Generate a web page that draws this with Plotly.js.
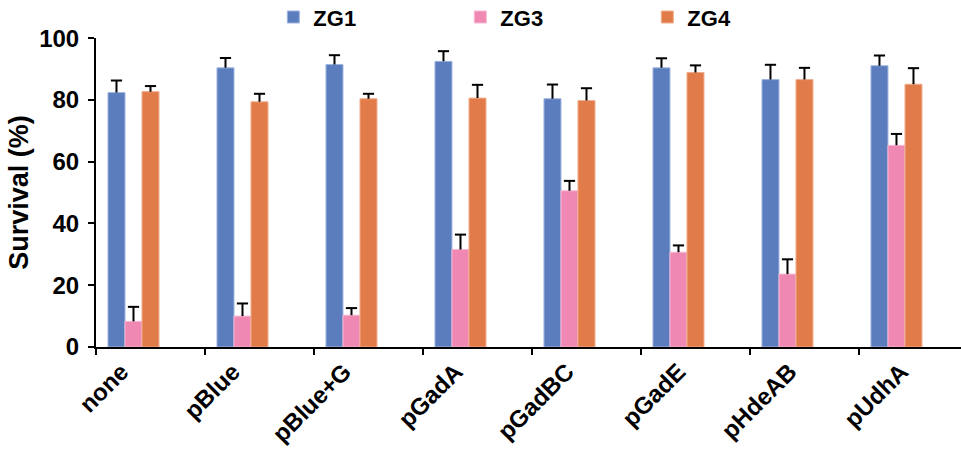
<!DOCTYPE html>
<html><head><meta charset="utf-8">
<script src="https://cdn.plot.ly/plotly-3.0.1.min.js"></script>
<style>html,body{margin:0;padding:0;background:#fff}#c{width:961px;height:453px}</style>
</head><body><div id="c"></div>
<script>
const categories = ["none","pBlue","pBlue+G","pGadA","pGadBC","pGadE","pHdeAB","pUdhA"];
const zg1 = [82.4, 90.4, 91.5, 92.5, 80.4, 90.4, 86.6, 91.1];
const zg1Err = [3.9, 3.2, 3.0, 3.3, 4.6, 3.1, 4.8, 3.3];
const zg3 = [8.3, 10.0, 10.3, 31.6, 50.6, 30.7, 23.6, 65.3];
const zg3Err = [4.7, 4.1, 2.3, 4.8, 3.2, 2.2, 4.8, 3.7];
const zg4 = [82.7, 79.4, 80.4, 80.6, 79.8, 88.9, 86.6, 85.1];
const zg4Err = [1.8, 2.6, 1.6, 4.3, 4.0, 2.3, 3.8, 5.2];
const seriesNames = ["ZG1","ZG3","ZG4"];
const colors = ["#5B7DBE","#F088B4","#E27B4A"];
const edgeColors = ["#9FB4E0","#F7B8D3","#F0AE8C"];
const yTicks = [0,20,40,60,80,100];

const W = 0.156;
const offsets = [-0.39, -0.39 + W, -0.39 + 2*W];
const vals = [zg1, zg3, zg4];
const errs = [zg1Err, zg3Err, zg4Err];
const zeros = categories.map(() => 0);
const XR = [-0.5, 7.436];

const traces = [];
seriesNames.forEach((n, i) => {
  traces.push({
    type: "bar", name: n, x: categories, y: vals[i],
    width: W, offset: offsets[i],
    marker: {color: colors[i], line: {width: 1, color: edgeColors[i]}},
    error_y: {type: "data", symmetric: false, array: errs[i], arrayminus: zeros,
              color: "#000", thickness: 2, width: 0},
    cliponaxis: false
  });
});
// error-bar caps drawn on an overlaid numeric axis at each bar's centre
seriesNames.forEach((n, i) => {
  traces.push({
    type: "scatter", mode: "markers", xaxis: "x2", showlegend: false, hoverinfo: "skip",
    x: categories.map((c, k) => k + offsets[i] + W / 2),
    y: vals[i].map((v, k) => v + errs[i][k]),
    marker: {symbol: "line-ew", size: 8, color: "#000", line: {width: 2, color: "#000"}},
    cliponaxis: false
  });
});

const layout = {
  width: 961, height: 453,
  margin: {l: 96, r: 0, t: 35, b: 106},
  paper_bgcolor: "#fff", plot_bgcolor: "#fff",
  font: {family: "Liberation Sans, Arial, sans-serif", color: "#000"},
  showlegend: true,
  legend: {orientation: "h", x: 0.205, xanchor: "left", xref: "paper",
           y: 0.962, yanchor: "middle", yref: "container",
           entrywidth: 142, entrywidthmode: "pixels", itemwidth: 30,
           font: {size: 22, weight: "bold", color: "#000"}, traceorder: "normal"},
  xaxis: {type: "category", range: XR, showgrid: false, automargin: false,
          showline: true, linecolor: "#000", linewidth: 2, showticklabels: false,
          ticks: "outside", tickson: "boundaries", ticklen: 6, tickwidth: 2, tickcolor: "#000",
          fixedrange: true},
  xaxis2: {overlaying: "x", anchor: "y", side: "bottom", range: XR, showgrid: false, zeroline: false,
           showline: false, ticks: "", automargin: false, fixedrange: true,
           tickmode: "array", tickvals: categories.map((c, k) => k - 0.266 + 0.022 * k), ticktext: categories,
           tickangle: -45, ticklabelstandoff: 5,
           tickfont: {size: 24, weight: "bold", color: "#000"}},
  yaxis: {range: [0, 100], tickvals: yTicks, ticktext: yTicks.map(String), showgrid: false,
          zeroline: false, showline: true, linecolor: "#000", linewidth: 2, automargin: false,
          ticks: "outside", ticklen: 6, tickwidth: 2, tickcolor: "#000", ticklabelstandoff: 4,
          tickfont: {size: 24, weight: "bold", color: "#000"},
          title: {text: "Survival (%)", font: {size: 27, weight: "bold", color: "#000"}, standoff: 3}}
};

Plotly.newPlot("c", traces, layout, {displayModeBar: false, staticPlot: true});
</script></body></html>
